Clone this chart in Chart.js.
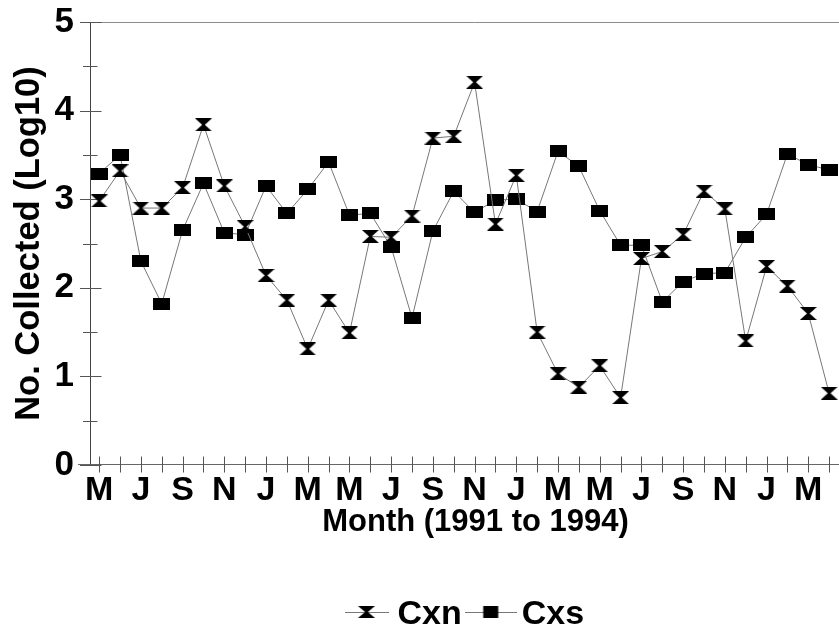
<!DOCTYPE html>
<html>
<head>
<meta charset="utf-8">
<script src="https://cdn.jsdelivr.net/npm/chart.js@4.4.1/dist/chart.umd.min.js"></script>
<style>
html,body{margin:0;padding:0;background:#fff;overflow:hidden;}
#wrap{width:839px;height:634px;overflow:hidden;position:relative;background:#fff;}
canvas{display:block;}
</style>
</head>
<body>
<div id="wrap"><canvas id="c" width="869" height="650" style="width:869px;height:650px"></canvas></div>
<script>
// ---- data (May 1991 .. April 1994, one value per month) ----
const monthLetters = ['M','J','J','A','S','O','N','D','J','F','M','A',
                      'M','J','J','A','S','O','N','D','J','F','M','A',
                      'M','J','J','A','S','O','N','D','J','F','M','A'];
const cxnValues = [2.98,3.32,2.90,2.90,3.13,3.84,3.15,2.69,2.14,1.86,1.31,1.86,
                   1.49,2.58,2.57,2.81,3.69,3.71,4.32,2.72,3.27,1.50,1.03,0.88,
                   1.12,0.76,2.33,2.41,2.60,3.09,2.89,1.40,2.24,2.02,1.71,0.81];
const cxsValues = [3.29,3.50,2.30,1.82,2.65,3.18,2.62,2.60,3.15,2.84,3.11,3.42,
                   2.82,2.84,2.46,1.66,2.64,3.09,2.85,2.99,3.00,2.86,3.54,3.37,
                   2.87,2.48,2.48,1.84,2.07,2.16,2.17,2.57,2.83,3.51,3.39,3.33];
const yTickValues = [0,1,2,3,4,5];
const seriesNames = ['Cxn','Cxs'];
const xTitle = 'Month (1991 to 1994)';
const yTitle = 'No. Collected (Log10)';

const FAMILY = "'Liberation Sans', Arial, Helvetica, sans-serif";
const f = (s) => ({family: FAMILY, size: s, weight: 'bold'});

// ---- layout constants (pixels) ----
const CANVAS_H = 650;
const PLOT_TOP = 22, PLOT_BOTTOM = 465, PLOT_LEFT = 91;
const LEG_FONT = 34, LEG_PAD = 15, LEG_BOX = 28, LEG_TEXT_CY = 615, LEG_START = 352.5;
const LEG_H = LEG_FONT + LEG_PAD + 10;
const PAD_BOTTOM = CANVAS_H - (LEG_TEXT_CY + LEG_FONT / 2 + 10);
const LEG_TOP = CANVAS_H - PAD_BOTTOM - LEG_H;
const X_AXIS_H = LEG_TOP - PLOT_BOTTOM;
const X_TITLE_CY = 522;
const X_TITLE_FONT = 31;

// ---- marker images ----
const LINE_COLOR = '#777';
function drawHourglass(g, cx, cy, w, h){
  g.fillStyle = '#000';
  g.beginPath(); g.moveTo(cx - w/2, cy - h/2); g.lineTo(cx + w/2, cy - h/2); g.lineTo(cx + 0.8, cy + 0.6); g.lineTo(cx - 0.8, cy + 0.6); g.closePath(); g.fill();
  g.beginPath(); g.moveTo(cx - w/2, cy + h/2); g.lineTo(cx + w/2, cy + h/2); g.lineTo(cx + 0.8, cy - 0.6); g.lineTo(cx - 0.8, cy - 0.6); g.closePath(); g.fill();
}
function drawSquare(g, cx, cy, w, h){
  g.fillStyle = '#000';
  g.fillRect(cx - w/2, cy - h/2, w, h);
}
function markerCanvas(kind, w, h){
  const c = document.createElement('canvas'); c.width = w; c.height = h;
  const g = c.getContext('2d');
  if (kind === 'hg') drawHourglass(g, w/2, h/2, w, h); else drawSquare(g, w/2, h/2, w, h);
  return c;
}
function legendCanvas(kind, lineW, w, h, lift){
  const H = h + 2*lift + 2;
  const c = document.createElement('canvas'); c.width = lineW; c.height = H;
  const g = c.getContext('2d');
  const cy = H/2 - lift;
  g.strokeStyle = LINE_COLOR; g.lineWidth = 1;
  g.beginPath(); g.moveTo(0, Math.round(cy) + 0.5); g.lineTo(lineW, Math.round(cy) + 0.5); g.stroke();
  if (kind === 'hg') drawHourglass(g, lineW/2, cy, w, h); else drawSquare(g, lineW/2, cy, w, h);
  return c;
}
const hgImg = markerCanvas('hg', 17, 13);
const sqImg = markerCanvas('sq', 17, 12);
const legendImgs = [legendCanvas('hg', 44, 17, 12, 3), legendCanvas('sq', 52, 15, 12, 3)];

// ---- plugins ----
const axesPlugin = {
  id: 'axesLines',
  beforeDatasetsDraw(chart){
    const {ctx, chartArea: a, scales: {x, y}} = chart;
    ctx.save();
    ctx.lineWidth = 1;
    const top = Math.round(a.top) + 0.5;
    const bot = Math.round(a.bottom) - 0.5;
    const lx = Math.round(a.left) - 0.5;
    ctx.strokeStyle = '#8c8c8c';
    ctx.beginPath(); ctx.moveTo(80, top); ctx.lineTo(chart.width, top); ctx.stroke();
    ctx.strokeStyle = '#666';
    ctx.beginPath(); ctx.moveTo(78, bot); ctx.lineTo(chart.width, bot); ctx.stroke();
    ctx.strokeStyle = '#444';
    ctx.beginPath(); ctx.moveTo(lx, top); ctx.lineTo(lx, bot); ctx.stroke();
    for (let v = y.min; v <= y.max + 1e-9; v += 0.5) {
      const py = Math.round(y.getPixelForValue(v)) + 0.5;
      const major = Math.abs(v - Math.round(v)) < 1e-9;
      ctx.strokeStyle = '#555';
      ctx.beginPath();
      ctx.moveTo(major ? lx - 10.5 : lx - 7.5, py);
      ctx.lineTo(major ? lx + 11 : lx + 7, py);
      ctx.stroke();
    }
    ctx.strokeStyle = '#555';
    monthLetters.forEach((_, i) => {
      const px = Math.round(x.getPixelForValue(i)) + 0.5;
      ctx.beginPath(); ctx.moveTo(px, bot - 8); ctx.lineTo(px, bot + 8); ctx.stroke();
    });
    ctx.restore();
  }
};
const legendShift = {
  id: 'legendShift',
  afterLayout(chart){
    const lg = chart.legend;
    if (!lg || !lg.lineWidths) return;
    const p = lg.options.labels.padding;
    const cur = (lg.left + p + lg.right - lg.lineWidths[0]) / 2;
    const d = LEG_START - cur;
    lg.left += d; lg.right += d;
  }
};

// ---- chart ----
const mk = (name, vals, img) => ({
  label: name,
  data: vals.map((v, i) => ({x: i, y: v})),
  borderColor: LINE_COLOR,
  backgroundColor: '#000',
  borderWidth: 1,
  pointStyle: img,
  pointRadius: 8,
  pointHoverRadius: 8,
  showLine: true,
  tension: 0,
  fill: false,
  clip: false
});

new Chart(document.getElementById('c'), {
  type: 'line',
  data: {
    datasets: [mk(seriesNames[0], cxnValues, hgImg), mk(seriesNames[1], cxsValues, sqImg)]
  },
  options: {
    responsive: false,
    animation: false,
    devicePixelRatio: 1,
    events: [],
    layout: {padding: {top: PLOT_TOP, left: 0, right: 0, bottom: PAD_BOTTOM}},
    scales: {
      x: {
        type: 'linear',
        min: -0.393,
        max: 36.48,
        afterBuildTicks: (s) => { s.ticks = monthLetters.map((_, i) => ({value: i})); },
        afterFit: (s) => { s.height = X_AXIS_H; s.paddingLeft = 0; s.paddingRight = 0; },
        grid: {display: false, drawTicks: false},
        border: {display: false},
        ticks: {
          autoSkip: false, maxRotation: 0, minRotation: 0, padding: 5,
          color: '#000', font: f(34),
          callback: (v) => { const i = Math.round(v); return i % 2 === 0 ? monthLetters[i] : ''; }
        },
        title: {display: true, text: xTitle, color: '#000', font: f(X_TITLE_FONT),
                padding: {top: 0, bottom: LEG_TOP - X_TITLE_CY - X_TITLE_FONT * 0.6}}
      },
      y: {
        min: 0, max: 5,
        afterBuildTicks: (s) => { s.ticks = yTickValues.map(v => ({value: v})); },
        afterFit: (s) => { s.width = PLOT_LEFT; s.paddingTop = 0; s.paddingBottom = 0; },
        grid: {display: false, drawTicks: false},
        border: {display: false},
        ticks: {padding: 17, color: '#000', font: f(35)},
        title: {display: true, text: yTitle, color: '#000', font: f(34.5), padding: {top: 8.3, bottom: 0}}
      }
    },
    plugins: {
      tooltip: {enabled: false},
      legend: {
        position: 'bottom',
        fullSize: false,
        labels: {
          usePointStyle: true,
          pointStyleWidth: LEG_BOX,
          padding: LEG_PAD,
          color: '#000',
          font: f(LEG_FONT),
          generateLabels(chart){
            const items = Chart.defaults.plugins.legend.labels.generateLabels(chart);
            items.forEach((it, i) => { it.pointStyle = legendImgs[i]; it.fontColor = '#000'; });
            return items;
          }
        }
      }
    }
  },
  plugins: [axesPlugin, legendShift]
});
</script>
</body>
</html>
